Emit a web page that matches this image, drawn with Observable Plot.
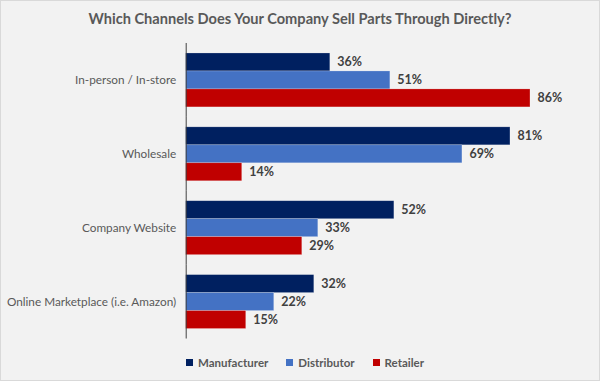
<!DOCTYPE html>
<html>
<head>
<meta charset="utf-8">
<script src="https://cdn.jsdelivr.net/npm/d3@7"></script>
<script src="https://cdn.jsdelivr.net/npm/@observablehq/plot@0.6"></script>
<style>
  html, body { margin: 0; padding: 0; background: #f2f2f2; }
  #wrap { position: relative; width: 600px; height: 381px; box-sizing: border-box; border: 1px solid #d9d9d9; background: #f2f2f2; font-family: Lato, "Open Sans", sans-serif; overflow: hidden; }
  #title { position: absolute; left: 0; width: 598px; top: 9px; text-align: center; font-weight: bold; font-size: 14.6px; color: #595959; }
  #chart { position: absolute; left: -1px; top: 41px; }
  #legend { position: absolute; left: 5px; width: 598px; top: 355px; display: flex; justify-content: center; gap: 18px; font-size: 11.5px; font-weight: bold; color: #595959; }
  .item { display: flex; align-items: center; gap: 5px; }
  .sw { width: 7px; height: 7px; display: inline-block; }
</style>
</head>
<body>
<div id="wrap">
  <div id="title">Which Channels Does Your Company Sell Parts Through Directly?</div>
  <div id="chart"></div>
  <div id="legend"></div>
</div>
<script>
const channels = ["In-person / In-store", "Wholesale", "Company Website", "Online Marketplace (i.e. Amazon)"];
const series = ["Manufacturer", "Distributor", "Retailer"];
const colors = ["#002060", "#4472C4", "#C00000"];
const manufacturer = [36, 81, 52, 32];
const distributor = [51, 69, 33, 22];
const retailer = [86, 14, 29, 15];

const seriesValues = [manufacturer, distributor, retailer];
const data = [];
channels.forEach((c, i) => {
  series.forEach((s, j) => data.push({channel: c, series: s, value: seriesValues[j][i]}));
});

const plot = Plot.plot({
  width: 600,
  height: 298,
  marginLeft: 186,
  marginRight: 13,
  marginTop: 0,
  marginBottom: 0,
  style: {background: "transparent", color: "#595959", fontFamily: "Lato, 'Open Sans', sans-serif", fontSize: "11.8px"},
  x: {domain: [0, 100], axis: null},
  y: {domain: series, paddingInner: 0, paddingOuter: 0.5, axis: null},
  fy: {domain: channels, padding: 0, label: null, tickSize: 0, tickPadding: 10},
  color: {domain: series, range: colors},
  marks: [
    Plot.barX(data, {x: "value", y: "series", fy: "channel", fill: "series", stroke: "#ffffff", strokeOpacity: 0.35, strokeWidth: 0.6}),
    Plot.text(data, {x: "value", y: "series", fy: "channel", text: d => d.value + "%", textAnchor: "start", dx: 7, fontWeight: "bold", fontSize: 12.5, fill: "#404040"}),
    Plot.ruleX([0], {stroke: "#404040", strokeWidth: 1})
  ]
});
document.getElementById("chart").appendChild(plot);

const legend = document.getElementById("legend");
series.forEach((s, i) => {
  const it = document.createElement("div");
  it.className = "item";
  it.innerHTML = `<span class="sw" style="background:${colors[i]}"></span><span>${s}</span>`;
  legend.appendChild(it);
});
</script>
</body>
</html>
